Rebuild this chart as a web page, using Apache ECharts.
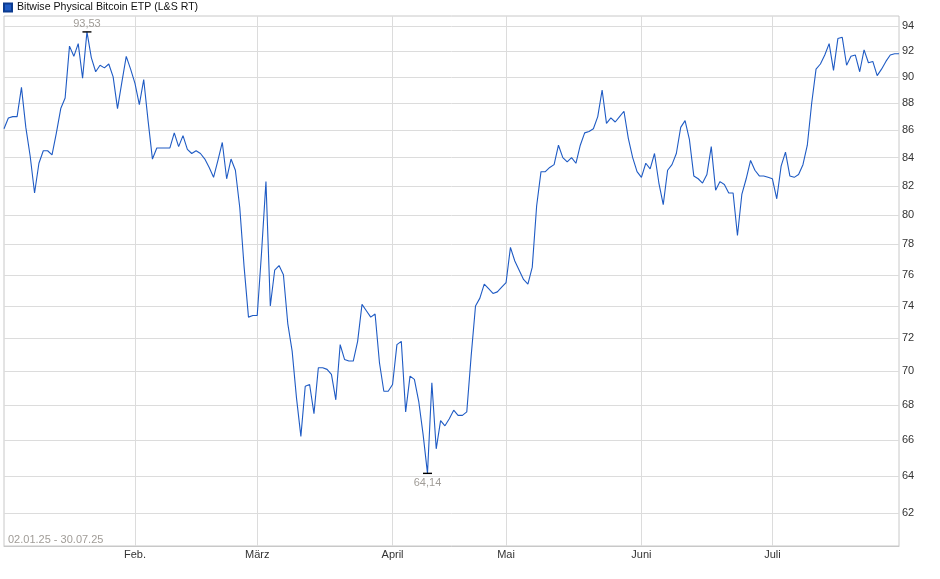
<!DOCTYPE html>
<html>
<head>
<meta charset="utf-8">
<script src="https://cdn.jsdelivr.net/npm/echarts@6/dist/echarts.min.js"></script>
<style>
html,body{margin:0;padding:0;background:#fff;}
#chart{width:940px;height:579px;}
</style>
</head>
<body>
<div id="chart"></div>
<script>
// ---- data ----
const seriesName = 'Bitwise Physical Bitcoin ETP (L&S RT)';
const rangeText = '02.01.25 - 30.07.25';
const startDate = '2025-01-02';
const endDate = '2025-07-30';
const missingDays = ['2025-04-18', '2025-04-19', '2025-04-20', '2025-04-21'];
const monthNames = {2: 'Feb.', 3: 'März', 4: 'April', 5: 'Mai', 6: 'Juni', 7: 'Juli'};
const yTicks = [62, 64, 66, 68, 70, 72, 74, 76, 78, 80, 82, 84, 86, 88, 90, 92, 94];

const jan = [86.1, 86.9, 87.0, 87.0, 89.2, 86.2, 84.1, 81.5, 83.6, 84.5,
             84.5, 84.2, 85.8, 87.6, 88.4, 92.4, 91.6, 92.6, 89.9, 93.53,
             91.5, 90.4, 90.9, 90.7, 91.0, 90.0, 87.6, 89.6, 91.6, 90.6];
const feb = [89.5, 87.9, 89.8, 86.7, 83.9, 84.7, 84.7, 84.7, 84.7, 85.8,
             84.8, 85.6, 84.6, 84.3, 84.5, 84.3, 83.9, 83.3, 82.6, 83.8,
             85.1, 82.5, 83.9, 83.1, 80.5, 76.5, 73.3, 73.4];
const mar = [73.4, 77.5, 82.3, 74.0, 76.3, 76.6, 76.0, 72.9, 71.2, 68.4,
             66.2, 69.1, 69.2, 67.5, 70.2, 70.2, 70.1, 69.8, 68.3, 71.6,
             70.7, 70.6, 70.6, 71.8, 74.1, 73.7, 73.3, 73.5, 70.5, 68.8, 68.8];
const apr = [69.2, 71.6, 71.8, 67.6, 69.7, 69.5, 68.2, 66.3, 64.14, 69.3,
             65.5, 67.1, 66.8, 67.2, 67.7, 67.4, 67.4,
             67.6, 70.9, 74.0, 74.5, 75.4, 75.1, 74.8, 74.9, 75.2];
const may = [75.5, 77.8, 76.9, 76.3, 75.7, 75.4, 76.5, 80.6, 83.0, 83.0,
             83.3, 83.5, 84.9, 84.0, 83.7, 84.0, 83.6, 84.9, 85.8, 85.9,
             86.1, 87.0, 89.0, 86.5, 86.9, 86.6, 87.0, 87.4, 85.4, 84.0, 83.0];
const jun = [82.6, 83.6, 83.2, 84.3, 82.2, 80.7, 83.1, 83.5, 84.3, 86.2,
             86.7, 85.3, 82.7, 82.5, 82.2, 82.8, 84.8, 81.7, 82.3, 82.1,
             81.5, 81.5, 78.6, 81.4, 82.5, 83.8, 83.1, 82.7, 82.7, 82.6];
const jul = [82.5, 81.1, 83.4, 84.4, 82.7, 82.6, 82.8, 83.5, 84.9, 88.0,
             90.6, 91.0, 91.7, 92.6, 90.5, 93.0, 93.1, 90.9, 91.6, 91.7,
             90.4, 92.1, 91.1, 91.2, 90.1, 90.6, 91.2, 91.7, 91.8, 91.8];

// ---- build categories / values ----
const dates = [];
for (let d = new Date(startDate + 'T00:00:00Z'); d <= new Date(endDate + 'T00:00:00Z'); d.setUTCDate(d.getUTCDate() + 1)) {
  const s = d.toISOString().slice(0, 10);
  if (!missingDays.includes(s)) dates.push(s);
}
const values = [].concat(jan, feb, mar, apr, may, jun, jul);

function isMonthStart(i) {
  return i > 0 && dates[i].slice(5, 7) !== dates[i - 1].slice(5, 7);
}
const fmt = v => Number(v).toFixed(2).replace('.', ',');
const FONT = '"Liberation Sans", Arial, sans-serif';

const chart = echarts.init(document.getElementById('chart'), null, {renderer: 'canvas'});
chart.setOption({
  animation: false,
  backgroundColor: '#ffffff',
  textStyle: {fontFamily: FONT},
  title: {
    text: rangeText,
    left: 8, top: 534, padding: 0,
    textStyle: {fontSize: 11, color: '#a09c97', fontWeight: 'normal', fontFamily: FONT}
  },
  legend: {
    data: [seriesName],
    left: 2, top: 1, padding: 1,
    itemWidth: 8, itemHeight: 8, itemGap: 5,
    icon: 'rect',
    textStyle: {fontSize: 10.6, color: '#111', fontFamily: FONT}
  },
  grid: {
    left: 4, right: 41, top: 16, bottom: 33,
    show: true, borderColor: '#c8c8c8', borderWidth: 1
  },
  xAxis: {
    type: 'category',
    data: dates,
    boundaryGap: false,
    axisLine: {show: true, lineStyle: {color: '#c8c8c8'}},
    axisTick: {show: false},
    axisLabel: {
      interval: (i) => isMonthStart(i),
      formatter: (v) => monthNames[+v.slice(5, 7)] || '',
      color: '#333', fontSize: 11, margin: 3, fontFamily: FONT
    },
    splitLine: {
      show: true,
      interval: (i) => isMonthStart(i),
      lineStyle: {color: '#dcdcdc', width: 1}
    }
  },
  yAxis: {
    type: 'log',
    logBase: 10,
    min: 60.28,
    max: 94.81,
    position: 'right',
    axisLine: {show: false},
    axisTick: {show: false},
    axisLabel: {show: false},
    splitLine: {show: false}
  },
  series: [
    {
      name: '_grid',
      type: 'line',
      data: [],
      silent: true,
      z: 1,
      markLine: {
        silent: true,
        z: 1,
        symbol: ['none', 'none'],
        animation: false,
        lineStyle: {color: '#dcdcdc', type: 'solid', width: 1},
        label: {
          show: true, position: 'end', distance: 3,
          formatter: (p) => String(p.value),
          color: '#333', fontSize: 11, fontFamily: FONT
        },
        emphasis: {disabled: true},
        data: yTicks.map(v => ({yAxis: v}))
      }
    },
    {
      name: seriesName,
      type: 'line',
      data: values,
      z: 3,
      showSymbol: false,
      symbol: 'none',
      color: '#1f5bc4',
      itemStyle: {color: '#1f5bc4', borderColor: '#0c3b8f', borderWidth: 1},
      lineStyle: {color: '#1f5bc4', width: 1.1},
      markPoint: {
        symbol: 'rect',
        symbolSize: [9, 1.4],
        itemStyle: {color: '#000'},
        silent: true,
        data: [
          {type: 'max', label: {show: true, position: 'top', distance: 2, formatter: p => fmt(p.value), color: '#a09c97', fontSize: 11, fontFamily: FONT}},
          {type: 'min', label: {show: true, position: 'bottom', distance: 3, formatter: p => fmt(p.value), color: '#a09c97', fontSize: 11, fontFamily: FONT}}
        ]
      }
    }
  ]
});
</script>
</body>
</html>
